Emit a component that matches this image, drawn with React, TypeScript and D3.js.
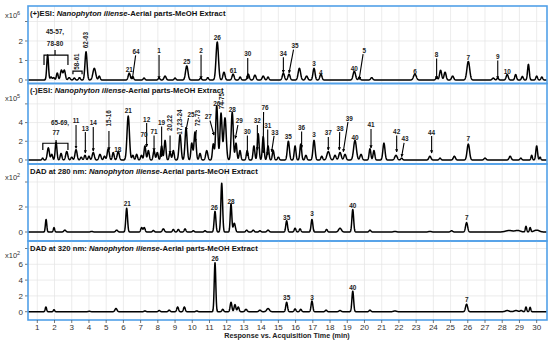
import * as d3 from 'd3';

// [retention time (min), height, width (min)]
type Peak = [number, number, number];
type Note = { text: string; t: number; v: number; rot?: boolean; arrow?: [number, number, number, number] };
type Brace = { t1: number; t2: number; v: number; vEnd: number; tMid?: number; vMid?: number };

const timeTicks = d3.range(1, 31);
const titleTail = '-Aerial parts-MeOH Extract';
const species = 'Nanophyton iliense';

// (+)ESI, x10^6
const posEsiPeaks: Peak[] = [
  [1.6, 1.28, 0.05], [1.8, 0.15, 0.05], [1.95, 0.12, 0.05], [2.16, 0.36, 0.05], [2.4, 0.5, 0.06],
  [2.57, 0.5, 0.06], [2.85, 0.12, 0.06], [3.15, 0.1, 0.05], [3.45, 0.12, 0.05], [3.83, 1.45, 0.06],
  [4.31, 0.6, 0.08], [4.6, 0.2, 0.05], [6.34, 0.35, 0.06], [6.55, 0.15, 0.05], [7.2, 0.1, 0.05],
  [8.07, 0.1, 0.05], [8.42, 0.2, 0.06], [9.0, 0.1, 0.05], [9.68, 0.72, 0.07], [10.49, 0.1, 0.05],
  [10.9, 0.12, 0.05], [11.45, 1.95, 0.07], [11.84, 0.4, 0.06], [12.37, 0.3, 0.06], [12.78, 0.15, 0.05],
  [13.25, 0.3, 0.06], [13.64, 0.25, 0.06], [14.12, 0.2, 0.06], [14.4, 0.15, 0.05], [15.29, 0.35, 0.06],
  [15.62, 0.3, 0.06], [16.22, 0.6, 0.07], [16.64, 0.2, 0.06], [17.07, 0.6, 0.06], [17.47, 0.3, 0.06],
  [19.41, 0.45, 0.07], [19.7, 0.15, 0.05], [20.42, 0.12, 0.06], [22.93, 0.3, 0.08], [24.19, 0.15, 0.05],
  [24.42, 0.5, 0.06], [24.68, 0.4, 0.06], [25.12, 0.2, 0.06], [26.03, 0.95, 0.08], [27.48, 0.1, 0.06],
  [27.74, 0.1, 0.05], [28.29, 0.28, 0.06], [28.78, 0.28, 0.05], [29.17, 0.18, 0.05], [29.52, 0.8, 0.05],
  [30.0, 0.2, 0.05], [30.3, 0.15, 0.05],
];

// (-)ESI, x10^5
const negEsiPeaks: Peak[] = [
  [1.31, 0.2, 0.04], [1.64, 1.3, 0.06], [1.84, 0.6, 0.05], [2.09, 1.9, 0.05], [2.38, 0.7, 0.05],
  [2.71, 0.9, 0.06], [3.0, 0.3, 0.05], [3.25, 1.1, 0.06], [3.55, 0.3, 0.05], [3.77, 0.5, 0.05],
  [4.0, 0.4, 0.05], [4.25, 0.8, 0.06], [4.64, 0.6, 0.06], [4.9, 0.4, 0.05], [5.12, 1.2, 0.06],
  [5.41, 0.8, 0.05], [5.7, 0.9, 0.06], [6.28, 4.7, 0.07], [6.55, 0.5, 0.05], [6.77, 0.6, 0.05],
  [7.05, 0.5, 0.05], [7.25, 1.5, 0.05], [7.45, 1.0, 0.05], [7.78, 1.0, 0.05], [7.97, 0.8, 0.05],
  [8.22, 1.5, 0.05], [8.42, 2.1, 0.05], [8.71, 0.8, 0.05], [8.9, 1.0, 0.05], [9.29, 2.7, 0.06],
  [9.64, 3.4, 0.06], [9.97, 1.8, 0.05], [10.16, 3.0, 0.06], [10.45, 0.7, 0.05], [10.84, 1.0, 0.06],
  [11.22, 1.7, 0.05], [11.42, 5.8, 0.06], [11.67, 5.0, 0.06], [11.9, 4.5, 0.07], [12.32, 5.1, 0.06],
  [12.54, 1.8, 0.05], [12.77, 1.0, 0.05], [13.19, 1.0, 0.05], [13.58, 1.5, 0.05], [13.83, 2.8, 0.05],
  [14.12, 2.5, 0.05], [14.4, 1.5, 0.05], [14.7, 1.0, 0.05], [15.0, 0.3, 0.05], [15.58, 2.0, 0.06],
  [15.97, 1.5, 0.05], [16.3, 1.7, 0.05], [16.6, 0.5, 0.05], [17.07, 2.1, 0.06], [17.52, 0.4, 0.05],
  [17.9, 0.9, 0.08], [18.29, 0.5, 0.06], [18.58, 0.8, 0.07], [18.87, 0.6, 0.06], [19.45, 2.1, 0.08],
  [19.8, 0.6, 0.06], [20.32, 1.2, 0.05], [20.55, 1.0, 0.05], [21.13, 1.8, 0.06], [21.83, 0.5, 0.07],
  [22.16, 0.2, 0.05], [23.8, 0.4, 0.06], [24.39, 0.2, 0.05], [25.22, 0.4, 0.06], [26.03, 1.7, 0.07],
  [27.0, 0.2, 0.06], [28.46, 0.4, 0.06], [29.08, 0.2, 0.05], [29.71, 0.5, 0.04], [30.0, 1.5, 0.05],
  [30.2, 0.3, 0.04],
];

// DAD 280 nm, x10^2
const dad280Peaks: Peak[] = [
  [1.51, 1.0, 0.04], [1.97, 0.35, 0.04], [2.6, 0.15, 0.06], [4.16, 0.05, 0.06], [5.61, 0.15, 0.06],
  [6.19, 1.9, 0.05], [7.06, 0.35, 0.05], [7.21, 0.35, 0.05], [7.74, 0.12, 0.05], [8.32, 0.25, 0.06],
  [8.9, 0.2, 0.05], [9.19, 0.2, 0.05], [9.58, 0.25, 0.05], [10.06, 0.1, 0.05], [10.74, 0.1, 0.05],
  [11.32, 1.65, 0.05], [11.71, 3.9, 0.05], [12.25, 2.25, 0.045], [12.44, 0.7, 0.06], [13.16, 0.15, 0.05],
  [13.54, 0.15, 0.05], [13.93, 0.1, 0.05], [14.4, 0.15, 0.06], [15.48, 0.9, 0.05], [15.97, 0.3, 0.05],
  [16.26, 0.25, 0.05], [16.95, 1.0, 0.05], [17.8, 0.2, 0.05], [18.58, 0.3, 0.08], [19.32, 1.8, 0.05],
  [20.32, 0.15, 0.05], [21.77, 0.05, 0.08], [23.8, 0.05, 0.08], [25.06, 0.1, 0.06], [25.93, 0.75, 0.06],
  [28.4, 0.12, 0.2], [28.9, 0.12, 0.15], [29.38, 0.45, 0.04], [29.62, 0.35, 0.04], [30.0, 0.15, 0.15],
];

// DAD 320 nm, x10^2
const dad320Peaks: Peak[] = [
  [1.5, 0.6, 0.04], [1.97, 0.25, 0.04], [4.02, 0.05, 0.06], [5.57, 0.4, 0.06], [7.25, 0.1, 0.05],
  [8.08, 0.15, 0.05], [8.66, 0.2, 0.05], [9.15, 0.6, 0.05], [9.54, 0.6, 0.05], [10.26, 0.1, 0.05],
  [11.32, 6.2, 0.045], [11.77, 0.3, 0.05], [12.25, 1.2, 0.05], [12.48, 0.9, 0.05], [12.67, 0.6, 0.05],
  [13.12, 0.3, 0.06], [13.93, 0.2, 0.06], [14.4, 0.4, 0.08], [15.48, 1.2, 0.05], [15.97, 0.35, 0.05],
  [16.3, 0.3, 0.05], [16.95, 1.35, 0.05], [17.77, 0.2, 0.05], [18.58, 0.15, 0.06], [19.32, 2.6, 0.05],
  [20.32, 0.2, 0.05], [21.77, 0.1, 0.08], [25.93, 0.95, 0.06], [28.29, 0.15, 0.1], [28.8, 0.15, 0.1],
  [29.1, 0.15, 0.06], [29.38, 0.6, 0.04], [29.62, 0.55, 0.04],
];

// peak labels: text centre (t, v), optional arrow [t1, v1, t2, v2]
const posEsiNotes: Note[] = [
  { text: '45-57,', t: 2.03, v: 2.48 }, { text: '78-80', t: 2.03, v: 1.88 },
  { text: '58-61', t: 3.32, v: 0.94, rot: true }, { text: '62-63', t: 3.83, v: 2.05, rot: true },
  { text: '64', t: 6.73, v: 1.45, arrow: [6.71, 1.26, 6.52, 0.05] }, { text: '21', t: 6.34, v: 0.51 },
  { text: '1', t: 8.07, v: 1.49, arrow: [8.07, 1.28, 8.07, 0.05] }, { text: '25', t: 9.68, v: 0.91 },
  { text: '2', t: 10.51, v: 1.5, arrow: [10.51, 1.29, 10.51, 0.05] }, { text: '26', t: 11.45, v: 2.17 },
  { text: '61', t: 12.38, v: 0.46 }, { text: '30', t: 13.22, v: 1.33, arrow: [13.22, 1.13, 13.22, 0.05] },
  { text: '34', t: 15.29, v: 1.37, arrow: [15.29, 1.17, 15.29, 0.38] },
  { text: '35', t: 15.97, v: 1.74, arrow: [15.88, 1.56, 15.62, 0.37] },
  { text: '3', t: 17.07, v: 0.82 }, { text: '4', t: 17.47, v: 0.39 }, { text: '40', t: 19.41, v: 0.56 },
  { text: '5', t: 19.99, v: 1.5, arrow: [19.92, 1.33, 19.69, 0.03] }, { text: '6', t: 22.93, v: 0.43 },
  { text: '8', t: 24.19, v: 1.28, arrow: [24.19, 1.1, 24.19, 0.05] }, { text: '7', t: 26.03, v: 1.16 },
  { text: '9', t: 27.74, v: 1.19, arrow: [27.74, 1.0, 27.74, 0.05] }, { text: '10', t: 28.29, v: 0.43 },
];

const negEsiNotes: Note[] = [
  { text: '65-69,', t: 2.32, v: 3.99 }, { text: '77', t: 2.09, v: 2.86 },
  { text: '11', t: 3.25, v: 4.17, arrow: [3.25, 3.74, 3.25, 1.25] },
  { text: '13', t: 3.79, v: 3.39, arrow: [3.79, 2.99, 3.79, 0.75] },
  { text: '14', t: 4.25, v: 3.93, arrow: [4.25, 3.53, 4.25, 0.96] },
  { text: '15-16', t: 5.16, v: 4.46, rot: true, arrow: [5.16, 3.1, 5.16, 1.07] },
  { text: '18', t: 5.67, v: 1.14 }, { text: '21', t: 6.28, v: 5.24 },
  { text: '12', t: 7.35, v: 4.35, arrow: [7.35, 3.96, 7.35, 1.42] }, { text: '70', t: 7.2, v: 2.75 },
  { text: '71', t: 7.78, v: 3.03, arrow: [7.78, 2.62, 7.78, 0.96] },
  { text: '19', t: 8.22, v: 3.99, arrow: [8.22, 3.58, 8.22, 0.35] },
  { text: '20,22', t: 8.71, v: 3.96, rot: true, arrow: [8.71, 2.62, 8.71, 0.7] },
  { text: '17,23-24', t: 9.29, v: 4.06, rot: true },
  { text: '25', t: 9.93, v: 4.89, arrow: [9.78, 4.49, 9.64, 3.21] },
  { text: '72-73', t: 10.31, v: 4.49, rot: true, arrow: [10.24, 3.21, 10.16, 1.96] },
  { text: '27', t: 10.93, v: 4.63, arrow: [11.03, 4.22, 11.26, 2.67] },
  { text: '26', t: 11.42, v: 6.06 }, { text: '74-75', t: 11.71, v: 6.31, rot: true },
  { text: '28', t: 12.32, v: 5.35 },
  { text: '29', t: 12.73, v: 4.17, arrow: [12.65, 3.74, 12.5, 2.32] },
  { text: '30', t: 13.2, v: 3.03, arrow: [13.2, 2.62, 13.2, 0.43] },
  { text: '32', t: 13.78, v: 4.17, arrow: [13.78, 3.74, 13.78, 1.07] },
  { text: '76', t: 14.22, v: 5.59, arrow: [14.14, 5.13, 14.12, 0.75] },
  { text: '31', t: 14.38, v: 3.67, arrow: [14.38, 3.26, 14.38, 0.53] },
  { text: '33', t: 14.8, v: 2.96, arrow: [14.75, 2.57, 14.61, 0.89] },
  { text: '35', t: 15.58, v: 2.49 },
  { text: '36', t: 16.35, v: 3.45, arrow: [16.35, 3.05, 16.35, 1.28] }, { text: '3', t: 17.07, v: 2.67 },
  { text: '37', t: 17.9, v: 2.86, arrow: [17.9, 2.46, 17.9, 1.07] },
  { text: '38', t: 18.58, v: 3.39, arrow: [18.56, 2.99, 18.54, 1.07] },
  { text: '39', t: 19.12, v: 4.46, arrow: [19.04, 4.06, 18.77, 0.89] },
  { text: '40', t: 19.45, v: 2.39 },
  { text: '41', t: 20.38, v: 3.74, arrow: [20.38, 3.32, 20.38, 1.28] },
  { text: '42', t: 21.87, v: 3.03, arrow: [21.87, 2.62, 21.87, 0.86] },
  { text: '43', t: 22.35, v: 2.25, arrow: [22.3, 1.82, 22.16, 0.35] },
  { text: '44', t: 23.9, v: 2.96, arrow: [23.9, 2.57, 23.9, 0.75] }, { text: '7', t: 26.03, v: 2.25 },
];

const dad280Notes: Note[] = [
  { text: '21', t: 6.23, v: 2.22 }, { text: '26', t: 11.28, v: 1.9 }, { text: '28', t: 12.25, v: 2.42 },
  { text: '35', t: 15.48, v: 1.14 }, { text: '3', t: 16.95, v: 1.42 }, { text: '40', t: 19.32, v: 2.08 },
  { text: '7', t: 25.94, v: 1.1 },
];

const dad320Notes: Note[] = [
  { text: '26', t: 11.32, v: 6.67 }, { text: '35', t: 15.48, v: 1.77 }, { text: '3', t: 16.95, v: 1.77 },
  { text: '40', t: 19.32, v: 3.04 }, { text: '7', t: 25.94, v: 1.57 },
];

const posEsiBraces: Brace[] = [
  { t1: 1.39, t2: 2.78, v: 1.28, vEnd: 0.77, tMid: 2.03, vMid: 1.54 },
  { t1: 3.07, t2: 3.6, v: 0.45, vEnd: 0.3 },
];
const negEsiBraces: Brace[] = [{ t1: 1.32, t2: 2.78, v: 1.79, vEnd: 1.07, tMid: 2.09, vMid: 2.14 }];

const LEFT = 28;
const RIGHT = 547;
const BLUE = '#52a0e8';
const FONT = '"Liberation Sans", Arial, sans-serif';

const panels = [
  { prefix: '(+)ESI: ', exp: '6', peaks: posEsiPeaks, notes: posEsiNotes, braces: posEsiBraces,
    domain: [-0.18, 3.795], ticks: [0, 1, 2, 3], labels: [0, 1, 2], top: 6, bottom: 83.5, titleY: 16, expY: 15 },
  { prefix: '(-)ESI: ', exp: '5', peaks: negEsiPeaks, notes: negEsiNotes, braces: negEsiBraces,
    domain: [-0.43, 8.18], ticks: [0, 2, 4, 6], labels: [0, 2, 4], top: 83.5, bottom: 164, titleY: 93, expY: 98 },
  { prefix: 'DAD at 280 nm: ', exp: '2', peaks: dad280Peaks, notes: dad280Notes, braces: [] as Brace[],
    domain: [-0.72, 5.44], ticks: [0, 2, 4], labels: [0, 2], top: 164, bottom: 241, titleY: 174, expY: 177 },
  { prefix: 'DAD at 320 nm: ', exp: '2', peaks: dad320Peaks, notes: dad320Notes, braces: [] as Brace[],
    domain: [-1.05, 8.95], ticks: [0, 2, 4, 6, 8], labels: [0, 2, 4, 6], top: 241, bottom: 320, titleY: 251, expY: 255 },
];

export default function App() {
  const x = d3.scaleLinear().domain([0.46, 30.6]).range([LEFT, RIGHT]);
  const times = d3.range(0.46, 30.6, 0.01);

  return (
    <svg width={550} height={344} style={{ position: 'absolute', left: 0, top: 0 }} fontFamily={FONT}>
      <rect width={550} height={344} fill="#fff" />
      <defs>
        <marker id="head" viewBox="0 0 6 6" refX={5} refY={3} markerWidth={3.2} markerHeight={3.2}
          markerUnits="userSpaceOnUse" orient="auto">
          <path d="M0,0L6,3L0,6Z" fill="#000" />
        </marker>
        {panels.map((p, i) => (
          <clipPath id={`clip${i}`} key={i}>
            <rect x={LEFT} y={p.top} width={RIGHT - LEFT} height={p.bottom - p.top} />
          </clipPath>
        ))}
      </defs>

      {panels.map((p, i) => {
        const y = d3.scaleLinear().domain(p.domain).range([p.bottom, p.top]);
        const trace = times.map((t) => [t, d3.sum(p.peaks, ([rt, h, w]) => h * Math.exp(-0.5 * ((t - rt) / w) ** 2))]);
        const line = d3.line<number[]>().x((d) => x(d[0])).y((d) => y(d[1]));
        return (
          <g key={i}>
            {timeTicks.map((t) => (
              <line key={t} x1={x(t)} x2={x(t)} y1={p.top} y2={p.bottom} stroke="#e4e4e4" strokeWidth={0.7} />
            ))}
            {p.ticks.map((v) => (
              <line key={v} x1={LEFT} x2={RIGHT} y1={y(v)} y2={y(v)} stroke="#e4e4e4" strokeWidth={0.7} />
            ))}
            <path d={line(trace) ?? ''} fill="none" stroke="#000" strokeWidth={1.5} strokeLinejoin="round" clipPath={`url(#clip${i})`} />

            {p.braces.map((b, j) => (
              <path key={j} fill="none" stroke="#000" strokeWidth={1.2}
                d={`M${x(b.t1)},${y(b.vEnd)}V${y(b.v)}H${x(b.t2)}V${y(b.vEnd)}` +
                  (b.tMid !== undefined ? `M${x(b.tMid)},${y(b.v)}V${y(b.vMid!)}` : '')} />
            ))}
            {p.notes.map((n, j) => (
              <g key={j}>
                {n.arrow && (
                  <line x1={x(n.arrow[0])} y1={y(n.arrow[1])} x2={x(n.arrow[2])} y2={y(n.arrow[3])}
                    stroke="#000" strokeWidth={1.1} markerEnd="url(#head)" />
                )}
                <text x={x(n.t)} y={y(n.v)} dy="0.35em" textAnchor="middle" fontSize={6.4} fontWeight="bold"
                  fill="#222" transform={n.rot ? `rotate(-90 ${x(n.t)} ${y(n.v)})` : undefined}>
                  {n.text}
                </text>
              </g>
            ))}

            <text x={30} y={p.titleY} fontSize={7.7} fontWeight="bold" fill="#111">
              {p.prefix}
              <tspan fontStyle="italic">{species}</tspan>
              {titleTail}
            </text>

            {p.ticks.map((v) => (
              <line key={v} x1={LEFT - 3} x2={LEFT} y1={y(v)} y2={y(v)} stroke="#555" strokeWidth={0.8} />
            ))}
            {p.labels.map((v) => (
              <text key={v} x={LEFT - 5} y={y(v)} dy="0.35em" textAnchor="end" fontSize={8} fill="#333">
                {v}
              </text>
            ))}
            <text x={5} y={p.expY} dy="0.35em" fontSize={7.5} fill="#333">
              x10
              <tspan fontSize={5.5} dy={-3}>{p.exp}</tspan>
            </text>

            <rect x={LEFT} y={p.top} width={RIGHT - LEFT} height={p.bottom - p.top} fill="none" stroke={BLUE} strokeWidth={1.6} />
          </g>
        );
      })}

      {timeTicks.map((t) => (
        <g key={t}>
          <line x1={x(t)} x2={x(t)} y1={320} y2={323} stroke="#555" strokeWidth={0.8} />
          <text x={x(t)} y={327.5} dy="0.35em" textAnchor="middle" fontSize={8} fill="#333">
            {t}
          </text>
        </g>
      ))}
      <text x={287} y={335.5} dy="0.35em" textAnchor="middle" fontSize={7.2} fontWeight="bold" fill="#222">
        Response vs. Acquisition Time (min)
      </text>
    </svg>
  );
}
